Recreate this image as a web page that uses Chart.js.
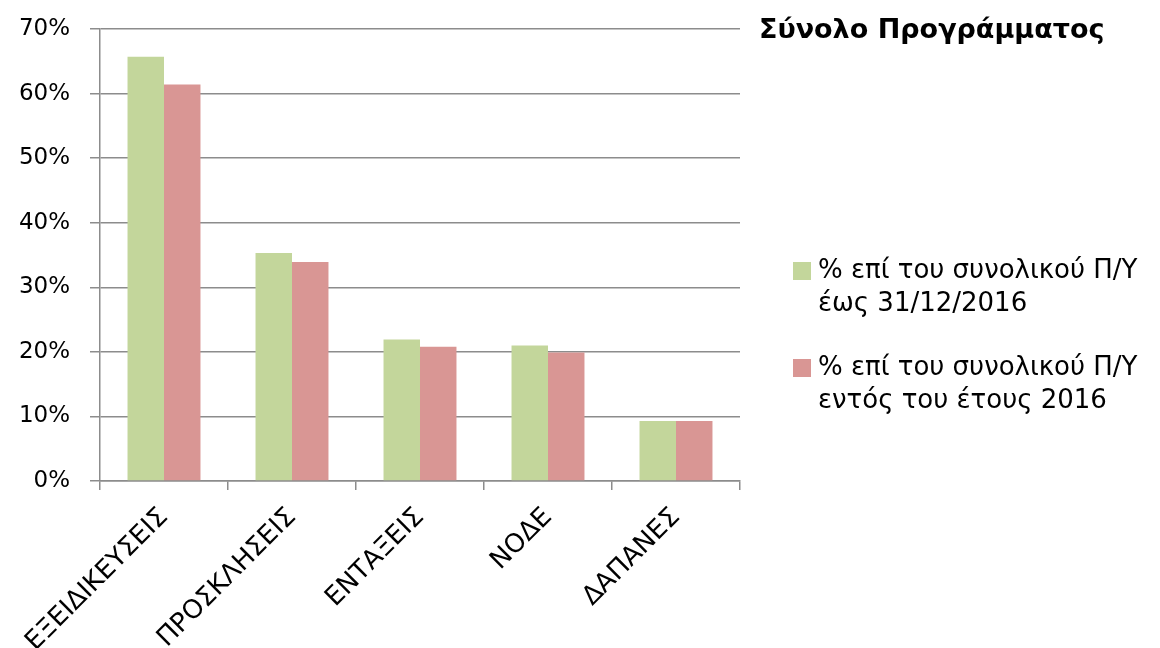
<!DOCTYPE html>
<html><head><meta charset="utf-8">
<script src="https://cdn.jsdelivr.net/npm/chart.js@4/dist/chart.umd.min.js"></script>
<style>html,body{margin:0;padding:0;background:#fff}#wrap{width:1160px;height:648px}</style>
</head><body><div id="wrap"><canvas id="c" width="1160" height="648"></canvas></div>
<script>
const categories = ['ΕΞΕΙΔΙΚΕΥΣΕΙΣ', 'ΠΡΟΣΚΛΗΣΕΙΣ', 'ΕΝΤΑΞΕΙΣ', 'ΝΟΔΕ', 'ΔΑΠΑΝΕΣ'];
const seriesUntil2016 = [65.7, 35.3, 21.9, 21.0, 9.3];
const seriesWithin2016 = [61.4, 33.9, 20.8, 19.9, 9.3];
const seriesNames = [['% επί του συνολικού Π/Υ', 'έως 31/12/2016'], ['% επί του συνολικού Π/Υ', 'εντός του έτους 2016']];
const seriesColors = ['#C3D69B', '#D99694'];
const chartTitle = 'Σύνολο Προγράμματος';
const yMin = 0, yMax = 70, yStep = 10;

const FONT = "'DejaVu Sans', 'Noto Sans', sans-serif";

const sideTextPlugin = {
  id: 'sideText',
  afterDraw(chart) {
    const ctx = chart.ctx;
    ctx.save();
    ctx.fillStyle = '#000';
    ctx.textBaseline = 'middle';
    ctx.textAlign = 'left';
    ctx.font = "bold 27px " + FONT;
    ctx.fillText(chartTitle, 759, 31);
    ctx.font = "26px " + FONT;
    const starts = [271, 368];
    chart.data.datasets.forEach((ds, i) => {
      const y0 = starts[i];
      ctx.fillStyle = ds.backgroundColor;
      ctx.fillRect(793, y0 - 9, 18, 18);
      ctx.fillStyle = '#000';
      ds.legendLines.forEach((line, j) => {
        ctx.fillText(line, 818, y0 + j * 33);
      });
    });
    ctx.restore();
  }
};

new Chart(document.getElementById('c'), {
  type: 'bar',
  data: {
    labels: categories,
    datasets: [
      { label: seriesNames[0].join(' '), legendLines: seriesNames[0], data: seriesUntil2016, backgroundColor: seriesColors[0], borderWidth: 0 },
      { label: seriesNames[1].join(' '), legendLines: seriesNames[1], data: seriesWithin2016, backgroundColor: seriesColors[1], borderWidth: 0 }
    ]
  },
  options: {
    responsive: false,
    animation: false,
    devicePixelRatio: 1,
    layout: { padding: { top: 29, right: 420, left: 0, bottom: 0 } },
    plugins: { legend: { display: false }, title: { display: false }, tooltip: { enabled: false } },
    datasets: { bar: { categoryPercentage: 0.57, barPercentage: 1.0 } },
    scales: {
      x: {
        offset: true,
        grid: { display: true, offset: true, drawOnChartArea: false, tickLength: 9, color: '#8c8c8c', lineWidth: 1.5 },
        border: { display: true, color: '#8c8c8c', width: 1.5 },
        ticks: { minRotation: 45, maxRotation: 45, autoSkip: false, color: '#000', font: { family: FONT, size: 26 }, padding: 12 },
        afterFit(scale) { scale.height = 167; scale.paddingLeft = 0; scale.paddingRight = 0; }
      },
      y: {
        min: yMin, max: yMax,
        grid: { color: '#8c8c8c', lineWidth: 1.5, tickLength: 10 },
        border: { display: true, color: '#8c8c8c', width: 1.5 },
        ticks: { stepSize: yStep, color: '#000', font: { family: FONT, size: 23 }, padding: 20, callback: v => v + '%' },
        afterFit(scale) { scale.width = 100; scale.paddingTop = 0; scale.paddingBottom = 0; }
      }
    }
  },
  plugins: [sideTextPlugin]
});
</script></body></html>
